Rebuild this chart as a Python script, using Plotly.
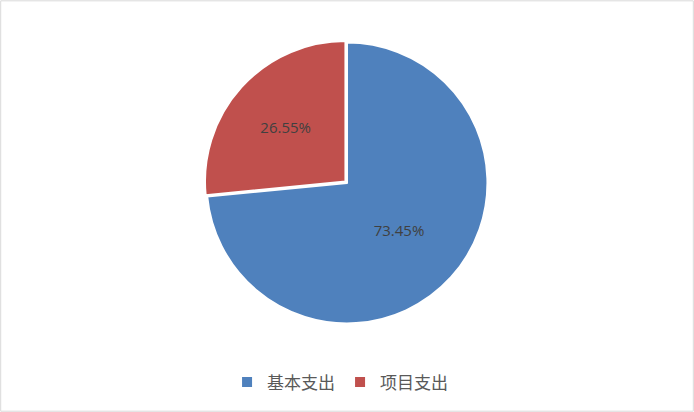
import plotly.graph_objects as go

labels = ["基本支出", "项目支出"]
values = [73.45, 26.55]
colors = ["#4F81BD", "#C0504D"]
pulls = [0, 0.015]

fig = go.Figure()
fig.add_trace(go.Pie(
    labels=labels,
    values=values,
    sort=False,
    direction="clockwise",
    rotation=0,
    pull=pulls,
    marker=dict(colors=colors, line=dict(color="white", width=2)),
    texttemplate="%{value:.2f}%",
    textposition="inside",
    insidetextorientation="horizontal",
    textfont=dict(family="Open Sans, Noto Sans CJK SC", size=15, color="#404040"),
    hoverinfo="label+percent",
    domain=dict(x=[0.294, 0.706], y=[0.21, 0.902]),
))

fig.update_layout(
    width=694, height=412,
    margin=dict(l=0, r=0, t=0, b=0),
    paper_bgcolor="white",
    font=dict(family="Noto Sans CJK SC", size=14, color="#595959"),
    showlegend=True,
    legend=dict(
        orientation="h",
        xanchor="center", x=0.49,
        yanchor="middle", y=0.072,
        font=dict(family="Noto Sans CJK SC", size=17, color="#595959"),
        itemwidth=30,
    ),
    shapes=[dict(type="rect", xref="paper", yref="paper", x0=0.001, y0=0.002, x1=0.999, y1=0.998,
                 line=dict(color="#D9D9D9", width=1))],
)

fig.write_html("out.html", config={"displayModeBar": False},
               post_script="document.body.style.margin='0';document.body.style.overflow='hidden';")
